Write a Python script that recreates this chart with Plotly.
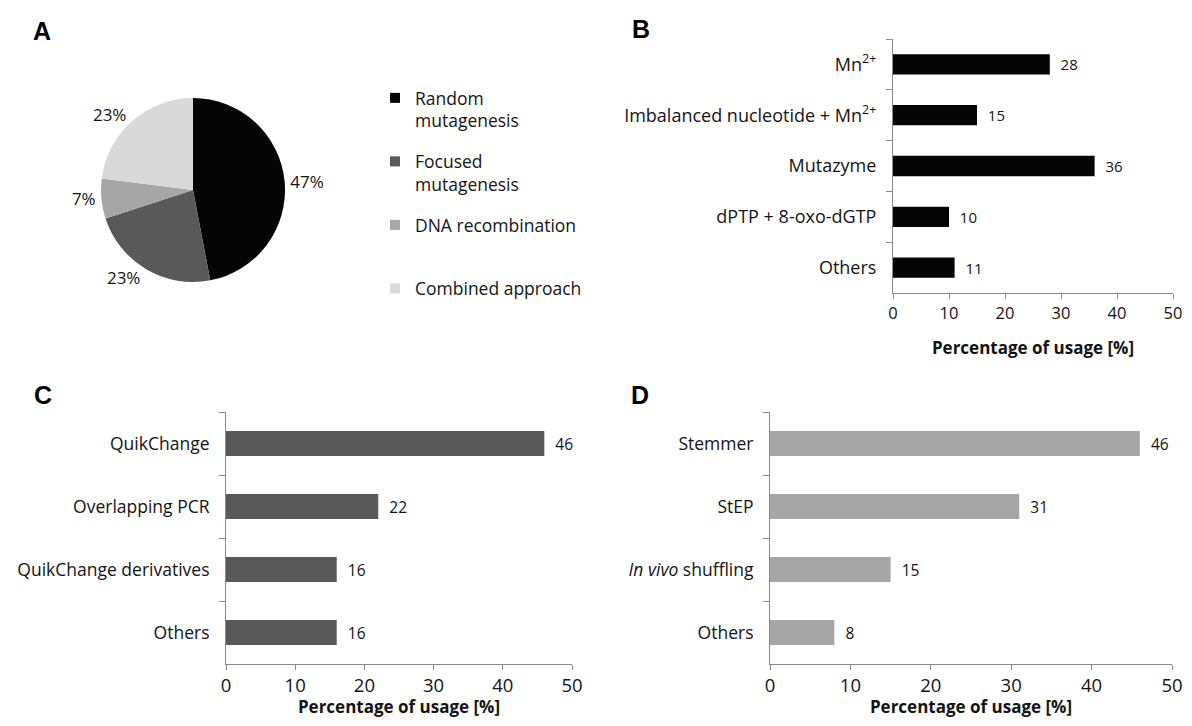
import plotly.graph_objects as go

# ---- data ----
pie_labels = ["Random mutagenesis", "Focused mutagenesis", "DNA recombination", "Combined approach"]
legend_labels = ["Random<br>mutagenesis", "Focused<br>mutagenesis", "DNA recombination<br> ", "Combined approach<br> "]
pie_values = [47, 23, 7, 23]
pie_colors = ["#050505", "#595959", "#a6a6a6", "#d9d9d9"]

b_cats = ["Mn<sup>2+</sup>", "Imbalanced nucleotide + Mn<sup>2+</sup>", "Mutazyme", "dPTP + 8-oxo-dGTP", "Others"]
b_vals = [28, 15, 36, 10, 11]

c_cats = ["QuikChange", "Overlapping PCR", "QuikChange derivatives", "Others"]
c_vals = [46, 22, 16, 16]

d_cats = ["Stemmer", "StEP", "<i>In vivo</i> shuffling", "Others"]
d_vals = [46, 31, 15, 8]

x_ticks = [0, 10, 20, 30, 40, 50]
axis_title = "<b>Percentage of usage [%]</b>"

# page body has an 8px margin; the figure is sized to fit inside it
OFF = 8
FW, FH = 1192 - 2 * OFF, 726 - 2 * OFF
FONT = "Open Sans"
AX = "#8a8a8a"
TXT = "#141414"


def px(x):
    return (x - OFF) / FW


def py(y):
    return 1 - (y - OFF) / FH


fig = go.Figure()

# ---- panel A: pie ----
cx, cy, r = 193, 190, 92
fig.add_trace(go.Pie(
    labels=pie_labels, values=pie_values, sort=False, direction="clockwise", rotation=0,
    marker=dict(colors=pie_colors, line=dict(color="#ffffff", width=0)),
    textinfo="percent", textposition="outside",
    textfont=dict(family=FONT, size=17, color=TXT),
    domain=dict(x=[px(cx - r), px(cx + r)], y=[py(cy + r), py(cy - r)]),
    showlegend=False, hoverinfo="label+percent",
))

# legend entries for the pie slices (one per slice so spacing can be set)
for lab, colr in zip(legend_labels, pie_colors):
    fig.add_trace(go.Scatter(
        x=[None], y=[None], mode="markers", name=lab, legendgroup=lab,
        marker=dict(symbol="square", size=10, color=colr),
        xaxis="x4", yaxis="y4", hoverinfo="skip",
    ))
fig.layout["xaxis4"] = dict(visible=False, domain=[0, 0.01], anchor="y4", fixedrange=True)
fig.layout["yaxis4"] = dict(visible=False, domain=[0, 0.01], anchor="x4", fixedrange=True)

# ---- bar panels ----
panels = [
    ("x", "y", b_cats, b_vals, "#050505", [893, 1173], [39, 293], 18, 16.5, 15),
    ("x2", "y2", c_cats, c_vals, "#595959", [226, 572], [412, 664], 17.5, 18.5, 15.5),
    ("x3", "y3", d_cats, d_vals, "#a6a6a6", [770, 1172], [412, 664], 17.5, 18.5, 15.5),
]

for xa, ya, cats, vals, col, xr, yr, catsize, ticksize, valsize in panels:
    fig.add_trace(go.Bar(
        x=vals, y=cats, orientation="h", xaxis=xa, yaxis=ya,
        marker=dict(color=col, line=dict(width=0)),
        texttemplate="\u00a0\u00a0%{x}", textposition="outside", cliponaxis=False,
        textfont=dict(family=FONT, size=valsize, color=TXT),
        showlegend=False, width=0.4,
    ))
    xkey = "xaxis" if xa == "x" else "xaxis" + xa[1:]
    ykey = "yaxis" if ya == "y" else "yaxis" + ya[1:]
    fig.layout[xkey] = dict(
        domain=[px(xr[0]), px(xr[1])], range=[0, 50], anchor=ya, automargin=False,
        tickvals=x_ticks, ticks="outside", ticklen=5, tickcolor=AX, tickwidth=1,
        ticklabeloverflow="allow",
        showline=True, linecolor=AX, linewidth=1, showgrid=False, zeroline=False,
        tickfont=dict(family=FONT, size=ticksize, color=TXT),
        title=dict(text=axis_title, font=dict(family=FONT, size=17, color=TXT), standoff=19),
        fixedrange=True,
    )
    fig.layout[ykey] = dict(
        domain=[py(yr[1]), py(yr[0])], anchor=xa, autorange="reversed", automargin=False,
        type="category",
        ticks="outside", tickson="boundaries", ticklen=6, tickcolor=AX, tickwidth=1,
        showline=True, linecolor=AX, linewidth=1, showgrid=False, zeroline=False,
        tickfont=dict(family=FONT, size=catsize, color=TXT),
        ticklabelstandoff=12, fixedrange=True,
    )

# ---- panel letters ----
for letter, x, y in [("A", 42, 31), ("B", 641, 29), ("C", 43, 395), ("D", 640, 395)]:
    fig.add_annotation(
        text="<b>" + letter + "</b>", x=px(x), y=py(y), xref="paper", yref="paper",
        xanchor="center", yanchor="middle", showarrow=False,
        font=dict(family="Liberation Sans", size=25, color="#000000"),
    )

fig.update_layout(
    width=FW, height=FH,
    margin=dict(l=0, r=0, t=0, b=0),
    paper_bgcolor="white", plot_bgcolor="white",
    font=dict(family=FONT, color=TXT),
    legend=dict(
        x=px(375), y=py(80), xanchor="left", yanchor="top",
        font=dict(family=FONT, size=17.5, color=TXT),
        valign="top", itemwidth=30, bgcolor="rgba(0,0,0,0)",
        traceorder="grouped", tracegroupgap=15,
    ),
    bargap=0.6,
)

fig.write_html("out.html")
